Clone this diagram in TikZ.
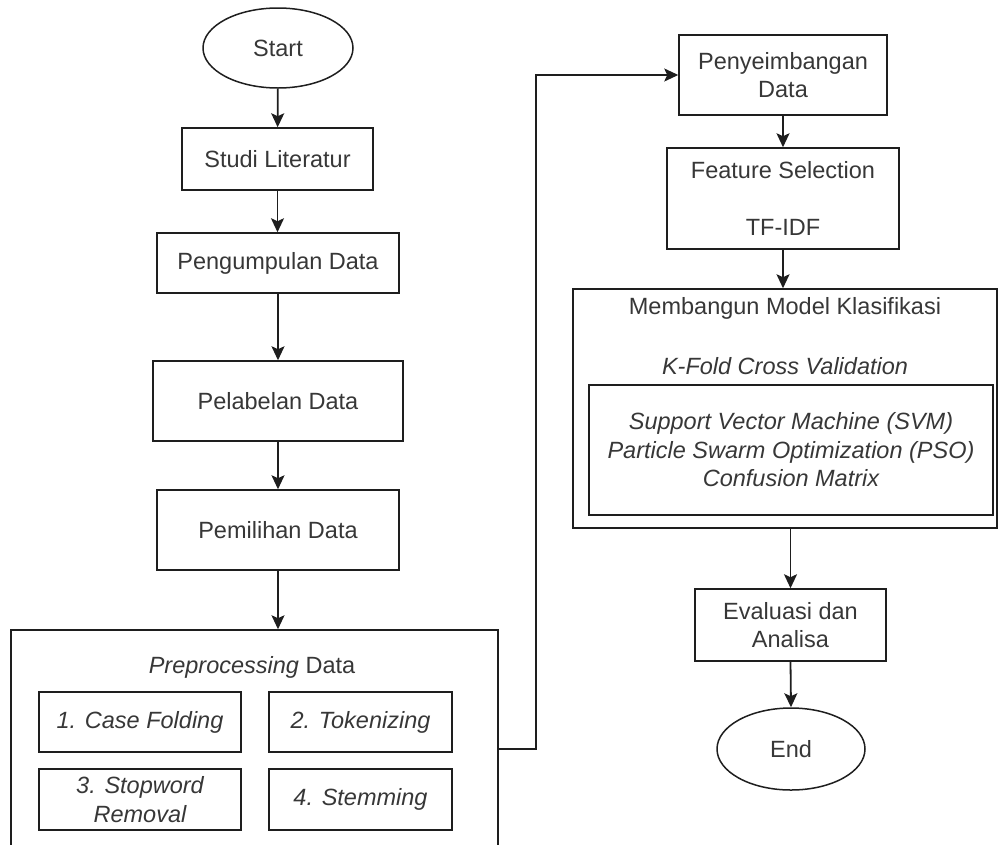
\documentclass[tikz,border=0pt]{standalone}
\usepackage{fontspec}
\setmainfont{Liberation Sans}
\usetikzlibrary{shapes.geometric,arrows.meta}
\definecolor{txt}{RGB}{55,55,55}
\definecolor{ln}{RGB}{30,30,30}
\begin{document}
\begin{tikzpicture}[x=1pt,y=-1pt,
  every node/.style={font=\fontsize{23.5}{28.5}\selectfont, text=txt, inner sep=0pt, align=center},
  box/.style={draw=ln, line width=1.5pt, rectangle},
  term/.style={draw=ln, line width=1.5pt, ellipse},
  lbl/.style={},
  flow/.style={draw=ln, line width=1.8pt, -{Stealth[length=14pt,width=13pt,inset=3pt]}}]
\useasboundingbox (0,0) rectangle (1000,844);
\clip (0,0) rectangle (1000,844);
% left column
\node[term, minimum width=150pt, minimum height=80pt] (start) at (278,48) {Start};
\node[box, minimum width=191pt, minimum height=62pt] (studi) at (277.5,159) {Studi Literatur};
\node[box, minimum width=242pt, minimum height=60pt] (kumpul) at (278,263) {Pengumpulan Data};
\node[box, minimum width=250pt, minimum height=80pt] (label) at (278,401) {Pelabelan Data};
\node[box, minimum width=242pt, minimum height=80pt] (pilih) at (278,530) {Pemilihan Data};
\node[box, minimum width=487pt, minimum height=238pt] (pre) at (254.5,749) {};
\node[lbl] (pretitle) at (252,667) {\itshape Preprocessing\upshape{} Data};
\node[box, minimum width=202pt, minimum height=60pt] (s1) at (140,722) {\itshape 1. Case Folding};
\node[box, minimum width=183pt, minimum height=60pt] (s2) at (360.5,722) {\itshape 2. Tokenizing};
\node[box, minimum width=202pt, minimum height=61pt] (s3) at (140,799.5) {\itshape 3. Stopword\\\itshape Removal};
\node[box, minimum width=183pt, minimum height=61pt] (s4) at (360.5,799.5) {\itshape 4. Stemming};
% right column
\node[box, minimum width=208pt, minimum height=80pt] (seimb) at (783,75) {Penyeimbangan\\Data};
\node[box, minimum width=232pt, minimum height=101pt] (feat) at (783,198.5) {Feature Selection\\\mbox{}\\TF-IDF};
\node[box, minimum width=424pt, minimum height=239pt] (model) at (785,408.5) {};
\node[lbl] (modeltitle) at (785,308) {Membangun Model Klasifikasi};
\node[lbl] (kfold) at (785,366) {\itshape K-Fold Cross Validation};
\node[box, minimum width=404pt, minimum height=130pt] (inner) at (791,450) {\itshape Support Vector Machine (SVM)\\\itshape Particle Swarm Optimization (PSO)\\\itshape Confusion Matrix};
\node[box, minimum width=191pt, minimum height=72pt] (eval) at (790.5,625) {Evaluasi dan\\Analisa};
\node[term, minimum width=148pt, minimum height=82pt] (end) at (791,749) {End};
% connectors
\draw[flow] (start) -- (studi);
\draw[flow] (studi.south) -- (studi.south |- kumpul.north);
\draw[flow] (kumpul.south) -- (kumpul.south |- label.north);
\draw[flow] (label.south) -- (label.south |- pilih.north);
\draw[flow] (pilih.south) -- (pilih.south |- pre.north);
\draw[flow] (pre.east) -- ++(37,0) |- (seimb.west);
\draw[flow] (seimb.south) -- (feat.north);
\draw[flow] (feat.south) -- (feat.south |- model.north);
\draw[flow] (model.south -| eval.north) -- (eval.north);
\draw[flow] (eval.south) -- (end.north);
\end{tikzpicture}
\end{document}
